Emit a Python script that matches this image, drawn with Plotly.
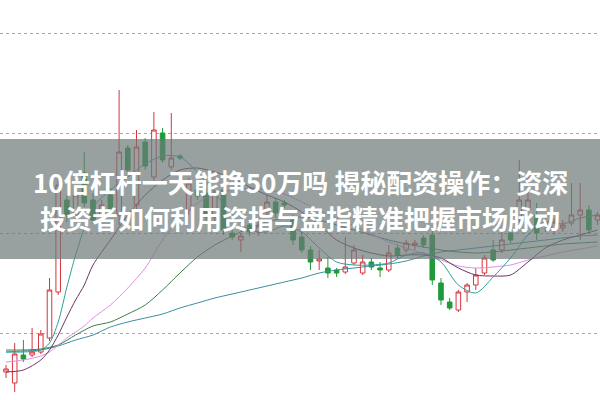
import plotly.graph_objects as go

# Daily candles (index = trading day)
opens = [9.61, 9.50, 9.78, 9.78, 9.81, 9.95, 10.41, 11.33, 11.18, 11.60,
         11.33, 11.18, 11.38, 11.18, 11.85, 11.28, 11.91, 11.56, 12.00, 11.66,
         11.77, 11.23, 11.43, 11.40, 11.16, 11.43, 11.00, 10.93, 11.08, 11.01,
         11.21, 11.31, 11.30, 11.13, 10.96, 10.83, 10.72, 10.65, 10.63, 10.61,
         10.70, 10.60, 10.71, 10.65, 10.63, 10.85, 10.83, 10.88, 10.95, 10.98,
         10.50, 10.31, 10.23, 10.41, 10.48, 10.60, 10.83, 10.83, 11.00, 11.16,
         11.23, 11.18, 11.11, 11.03, 11.05, 11.10, 11.18, 11.23, 11.13]
highs = [9.68, 9.90, 9.93, 10.05, 10.03, 10.55, 11.55, 11.38, 11.43, 11.81,
         11.40, 11.33, 11.45, 12.43, 11.88, 12.03, 11.95, 12.21, 12.05, 12.20,
         11.79, 11.55, 11.48, 11.45, 11.43, 11.47, 11.03, 11.00, 11.13, 11.11,
         11.38, 11.35, 11.33, 11.18, 11.01, 10.87, 10.83, 10.76, 10.65, 10.96,
         10.88, 10.78, 10.75, 10.71, 10.88, 10.89, 10.93, 10.93, 10.98, 11.05,
         10.55, 10.35, 10.43, 10.50, 10.65, 10.78, 10.93, 11.03, 11.05, 11.73,
         11.60, 11.30, 11.15, 11.15, 11.13, 11.50, 11.50, 11.28, 11.21]
lows = [9.55, 9.41, 9.71, 9.76, 9.79, 9.92, 10.38, 11.11, 11.13, 11.26,
        11.09, 11.08, 11.18, 11.08, 11.58, 11.23, 11.63, 11.51, 11.70, 11.63,
        11.73, 11.18, 11.33, 11.11, 11.11, 10.98, 10.93, 10.81, 10.97, 10.97,
        11.17, 11.15, 11.25, 10.88, 10.80, 10.63, 10.63, 10.55, 10.56, 10.59,
        10.68, 10.58, 10.63, 10.56, 10.61, 10.75, 10.80, 10.83, 10.85, 10.48,
        10.28, 10.23, 10.21, 10.31, 10.43, 10.58, 10.71, 10.80, 10.90, 11.11,
        11.21, 10.93, 11.01, 10.98, 11.01, 11.07, 10.93, 11.00, 11.08]
closes = [9.64, 9.79, 9.74, 9.81, 9.99, 10.43, 11.48, 11.18, 11.38, 11.30,
          11.13, 11.28, 11.23, 11.81, 11.63, 11.86, 11.67, 12.03, 11.73, 11.75,
          11.75, 11.50, 11.37, 11.16, 11.40, 11.03, 10.96, 10.97, 11.01, 11.07,
          11.31, 11.20, 11.28, 10.93, 10.83, 10.71, 10.74, 10.60, 10.60, 10.66,
          10.83, 10.71, 10.66, 10.63, 10.80, 10.78, 10.90, 10.90, 10.88, 10.53,
          10.33, 10.25, 10.41, 10.48, 10.58, 10.75, 10.73, 10.93, 10.93, 11.33,
          11.33, 11.00, 11.07, 11.11, 11.08, 11.18, 11.23, 11.03, 11.18]
days = list(range(len(opens)))

# Moving-average curves, sampled on selected days
ma_days_fast = [0, 2, 4, 5, 6, 7, 8, 9, 10] + list(range(12, 69, 2))
ma_days_slow = list(range(0, 69, 2))

ma5 = [9.81, 9.81, 9.83, 9.90, 10.11, 10.46, 10.78, 11.05, 11.26,
       11.43, 11.56, 11.69, 11.77, 11.76, 11.61, 11.40, 11.19, 11.03, 11.01,
       11.07, 11.01, 10.85, 10.71, 10.68, 10.68, 10.70, 10.78, 10.80, 10.71,
       10.48, 10.40, 10.56, 10.75, 10.98, 11.11, 11.09, 11.15, 11.18]
ma5_days = [0, 2, 4, 5, 6, 7, 8, 9, 10, 12, 14, 16, 18, 20, 22, 24, 26, 28,
            30, 32, 34, 36, 38, 40, 42, 44, 46, 48, 50, 52, 54, 56, 58, 60,
            62, 64, 66, 68]
ma10 = [9.61, 9.63, 9.73, 9.83, 9.98, 10.16, 10.33, 10.48, 10.68,
        10.93, 11.18, 11.38, 11.53, 11.63, 11.65, 11.61, 11.55, 11.46, 11.38,
        11.31, 11.21, 11.08, 10.93, 10.85, 10.80, 10.77, 10.78, 10.78, 10.75,
        10.65, 10.58, 10.57, 10.58, 10.71, 10.85, 10.93, 10.98, 11.03]
ma20 = [9.71, 9.73, 9.77, 9.81, 9.88, 9.95, 10.01, 10.07, 10.15,
        10.28, 10.45, 10.65, 10.93, 11.15, 11.30, 11.39, 11.43, 11.45, 11.43,
        11.39, 11.31, 11.23, 11.15, 11.07, 10.99, 10.91, 10.85, 10.79, 10.73,
        10.67, 10.65, 10.66, 10.68, 10.73, 10.77, 10.81, 10.84, 10.87]
ma30 = [9.83, 9.83, 9.84, 9.88, 9.98, 10.07, 10.11, 10.19, 10.28, 10.43,
        10.60, 10.76, 10.88, 10.97, 11.05, 11.11, 11.15, 11.16, 11.13, 11.08,
        11.03, 10.98, 10.93, 10.89, 10.86, 10.83, 10.81, 10.80, 10.81, 10.83,
        10.85, 10.87, 10.89, 10.90, 10.91]
ma60 = [9.81, 9.82, 9.83, 9.87, 9.93, 9.98, 10.06, 10.11, 10.15, 10.19,
        10.25, 10.30, 10.35, 10.39, 10.43, 10.47, 10.51, 10.55, 10.60, 10.63,
        10.65, 10.67, 10.69, 10.72, 10.77, 10.81, 10.83, 10.85, 10.87, 10.89,
        10.91, 10.93, 10.95, 10.97, 10.98]

grid_levels = [10, 11, 12, 13]

title_lines = ["10倍杠杆一天能挣50万吗 揭秘配资操作：资深",
               "投资者如何利用资指与盘指精准把握市场脉动"]

fig = go.Figure()

fig.add_trace(go.Candlestick(
    x=days, open=opens, high=highs, low=lows, close=closes,
    increasing=dict(line=dict(color="#d8343c", width=1), fillcolor="#ffffff"),
    decreasing=dict(line=dict(color="#1f9a3a", width=1), fillcolor="#1f9a3a"),
    whiskerwidth=0, showlegend=False, hoverinfo="skip",
))

ma_series = [
    (ma60, ma_days_slow, "#3a8ea4"),
    (ma30, ma_days_slow, "#3f7d4c"),
    (ma20, ma_days_fast, "#dc92e4"),
    (ma10, ma_days_fast, "#6b3563"),
    (ma5, ma5_days, "#2f9e9a"),
]
for vals, xs, col in ma_series:
    fig.add_trace(go.Scatter(
        x=xs, y=vals, mode="lines",
        line=dict(color=col, width=1, shape="spline", smoothing=0.8),
        showlegend=False, hoverinfo="skip",
    ))

# translucent grey banner behind the headline
fig.add_shape(type="rect", xref="paper", yref="paper",
              x0=0, x1=1, y0=0.3525, y1=0.6525,
              fillcolor="rgba(108,121,119,0.70)", line=dict(width=0),
              layer="above")

for text, ypos in zip(title_lines, [0.545, 0.455]):
    fig.add_annotation(
        text=f"<b>{text}</b>", xref="paper", yref="paper",
        x=0.5, y=ypos, xanchor="center", yanchor="middle",
        showarrow=False,
        font=dict(family="Noto Sans CJK SC", size=26, color="#ffffff"),
    )

fig.update_layout(
    width=600, height=400,
    margin=dict(l=0, r=0, t=0, b=0),
    paper_bgcolor="#ffffff", plot_bgcolor="#ffffff",
    boxgap=0.25,
    xaxis=dict(range=[-0.69, 68.28], visible=False,
               rangeslider=dict(visible=False)),
    yaxis=dict(range=[9.33, 13.33], tickvals=grid_levels,
               showticklabels=False, showgrid=True,
               gridcolor="#a8a8a8", griddash="dot", gridwidth=1,
               zeroline=False, showline=False),
)

fig.write_html("out.html")
